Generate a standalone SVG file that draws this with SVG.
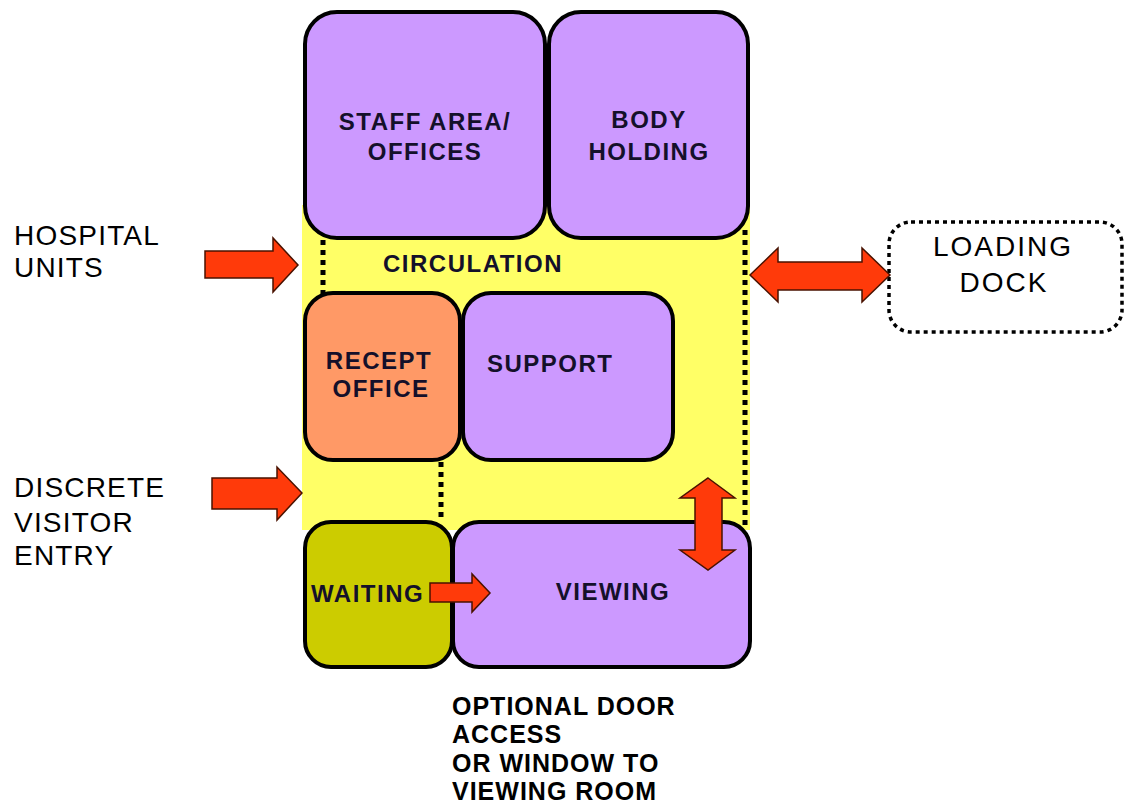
<svg xmlns="http://www.w3.org/2000/svg" width="1125" height="806" viewBox="0 0 1125 806">
<style>
.room{stroke:#000;stroke-width:4}
.purple{fill:#CC99FF}
.bt{font-family:"Liberation Sans",Arial,sans-serif;font-weight:bold;font-size:24px;letter-spacing:1.5px;fill:#14102a}
.lt{font-family:"Liberation Sans",Arial,sans-serif;font-size:28px;letter-spacing:1.2px;fill:#000}
.bot{font-family:"Liberation Sans",Arial,sans-serif;font-weight:bold;font-size:25px;letter-spacing:1px;fill:#000}
.arrow{fill:#FF3A0A;stroke:#4a1200;stroke-width:1.5;stroke-linejoin:miter}
.dots{stroke:#000;stroke-width:5;stroke-dasharray:5 5;fill:none}
</style>
<rect width="1125" height="806" fill="#fff"/>
<g id="circulation">
<rect x="302" y="205" width="448" height="325" fill="#FFFF66"/>
<text class="bt" x="383" y="272">CIRCULATION</text>
</g>
<g id="staff">
<rect class="room purple" x="305" y="12" width="240" height="226" rx="32"/>
<text class="bt" x="425" y="130" text-anchor="middle">STAFF AREA/</text>
<text class="bt" x="425" y="160" text-anchor="middle">OFFICES</text>
</g>
<g id="body-holding">
<rect class="room purple" x="549" y="12" width="199" height="226" rx="32"/>
<text class="bt" x="649" y="128" text-anchor="middle">BODY</text>
<text class="bt" x="649" y="160" text-anchor="middle">HOLDING</text>
</g>
<g id="recept">
<rect class="room" fill="#FF9966" x="305" y="293" width="155" height="167" rx="28"/>
<text class="bt" x="379" y="369" text-anchor="middle">RECEPT</text>
<text class="bt" x="381" y="397" text-anchor="middle">OFFICE</text>
</g>
<g id="support">
<rect class="room purple" x="463" y="293" width="210" height="167" rx="28"/>
<text class="bt" x="487" y="372">SUPPORT</text>
</g>
<g id="waiting">
<rect class="room" fill="#CCCC00" x="305" y="522" width="147" height="145" rx="26"/>
<text class="bt" x="311" y="602">WAITING</text>
</g>
<g id="viewing">
<rect class="room purple" x="453" y="522" width="297" height="145" rx="26"/>
<text class="bt" x="613" y="600" text-anchor="middle">VIEWING</text>
</g>
<g id="loading-dock">
<rect x="889" y="222" width="233" height="110" rx="22" fill="#fff" stroke="#000" stroke-width="3.5" stroke-dasharray="4 4"/>
<text class="lt" x="1003" y="256" text-anchor="middle" style="letter-spacing:2px">LOADING</text>
<text class="lt" x="1004" y="292" text-anchor="middle" style="letter-spacing:2px">DOCK</text>
</g>
<g id="hospital-units">
<text class="lt" x="14" y="245">HOSPITAL</text>
<text class="lt" x="14" y="277">UNITS</text>
</g>
<g id="visitor-entry">
<text class="lt" x="14" y="497">DISCRETE</text>
<text class="lt" x="14" y="532">VISITOR</text>
<text class="lt" x="14" y="565">ENTRY</text>
</g>
<g id="optional-note">
<text class="bot" x="452" y="715">OPTIONAL DOOR</text>
<text class="bot" x="452" y="743">ACCESS</text>
<text class="bot" x="452" y="772">OR WINDOW TO</text>
<text class="bot" x="452" y="800">VIEWING ROOM</text>
</g>
<g id="connectors">
<line class="dots" x1="323" y1="240" x2="323" y2="295"/>
<line class="dots" x1="745" y1="230" x2="745" y2="525"/>
<line class="dots" x1="441" y1="462" x2="441" y2="522"/>
<polygon class="arrow" points="205,251 273,251 273,238 298,265 273,292 273,278 205,278"/>
<polygon class="arrow" points="212,478 277,478 277,467 302,493 277,520 277,509 212,509"/>
<polygon class="arrow" points="750,275 778,248 778,262 862,262 862,248 890,275 862,302 862,290 778,290 778,302"/>
<polygon class="arrow" points="708,478 735,498 722,498 722,550 735,550 708,570 680,550 695,550 695,498 680,498"/>
<polygon class="arrow" points="430,583 472,583 472,574 490,593 472,612 472,602 430,602"/>
</g>
</svg>
